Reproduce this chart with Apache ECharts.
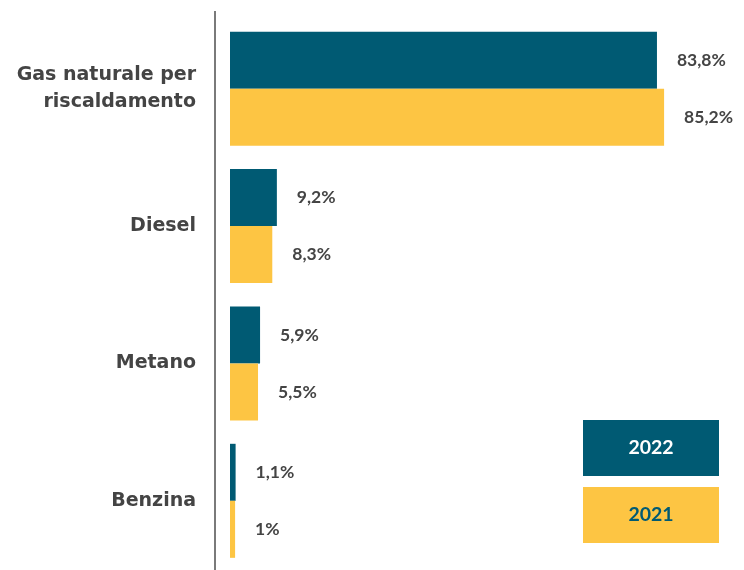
<!DOCTYPE html>
<html>
<head>
<meta charset="utf-8">
<script src="https://cdn.jsdelivr.net/npm/echarts@6/dist/echarts.min.js"></script>
<style>
  html, body { margin: 0; padding: 0; background: #ffffff; }
  #chart { width: 744px; height: 570px; }
</style>
</head>
<body>
<div id="chart"></div>
<script>
// Fuel categories, top to bottom
const categories = ['Gas naturale per\nriscaldamento', 'Diesel', 'Metano', 'Benzina'];
// Share of consumption (%) per year
const values2022 = [83.8, 9.2, 5.9, 1.1];
const values2021 = [85.2, 8.3, 5.5, 1];
const seriesNames = ['2022', '2021'];

const TEAL = '#005a73';
const YELLOW = '#fdc543';
const TEXT = '#444444';
const FONT = 'Lato, "Noto Sans", sans-serif';
const CAT_FONT = '"DejaVu Sans", sans-serif';

const fmt = p => String(p.value).replace('.', ',') + '%';

const chart = echarts.init(document.getElementById('chart'), null, { renderer: 'canvas' });

const valueLabel = {
  show: true,
  position: 'right',
  distance: 20,
  formatter: fmt,
  color: TEXT,
  fontFamily: FONT,
  fontWeight: 'bold',
  fontSize: 17.5
};

chart.setOption({
  animation: false,
  backgroundColor: '#ffffff',
  grid: { left: 230, top: 20, width: 509.5, height: 549.5, containLabel: false },
  xAxis: {
    type: 'value',
    min: 0,
    max: 100,
    show: false
  },
  yAxis: {
    type: 'category',
    inverse: true,
    data: categories,
    axisLine: { show: false },
    axisTick: { show: false },
    axisLabel: {
      margin: 34,
      color: TEXT,
      fontFamily: CAT_FONT,
      fontWeight: 'bold',
      fontSize: 19,
      lineHeight: 27,
      align: 'right'
    }
  },
  series: [
    {
      name: seriesNames[0],
      type: 'bar',
      data: values2022,
      barGap: '0%',
      barCategoryGap: '17%',
      itemStyle: { color: TEAL },
      label: valueLabel
    },
    {
      name: seriesNames[1],
      type: 'bar',
      data: values2021,
      barGap: '0%',
      barCategoryGap: '17%',
      itemStyle: { color: YELLOW },
      label: valueLabel
    }
  ],
  graphic: [
    // vertical divider between category names and bars
    {
      type: 'line',
      shape: { x1: 215, y1: 11, x2: 215, y2: 570 },
      style: { stroke: '#7a7a7a', lineWidth: 2 }
    },
    {
      type: 'group',
      left: 583,
      top: 420,
      children: [
        { type: 'rect', shape: { x: 0, y: 0, width: 136, height: 56 }, style: { fill: TEAL } },
        { type: 'text', x: 68, y: 28, style: { text: seriesNames[0], fill: '#ffffff', font: 'bold 19.5px ' + FONT, textAlign: 'center', textVerticalAlign: 'middle' } },
        { type: 'rect', shape: { x: 0, y: 67, width: 136, height: 56 }, style: { fill: YELLOW } },
        { type: 'text', x: 68, y: 95, style: { text: seriesNames[1], fill: TEAL, font: 'bold 19.5px ' + FONT, textAlign: 'center', textVerticalAlign: 'middle' } }
      ]
    }
  ]
});
</script>
</body>
</html>
